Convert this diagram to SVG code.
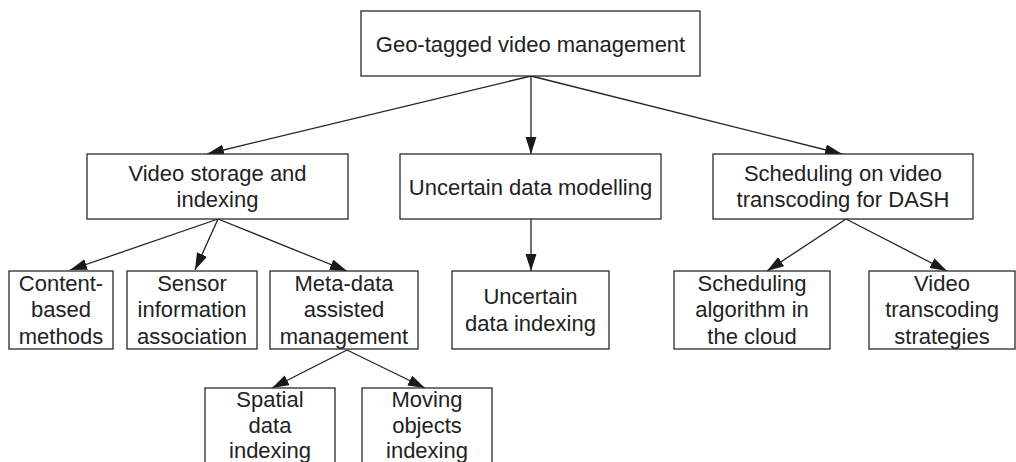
<svg xmlns="http://www.w3.org/2000/svg" width="1016" height="462" viewBox="0 0 1016 462">
  <style>
    .box { fill: #fff; stroke: #2a2a2a; stroke-width: 1.3; }
    .lbl { font-family: "Liberation Sans", Arial, sans-serif; font-size: 22px; fill: #222; text-anchor: middle; }
    .edge { stroke: #222; stroke-width: 1.3; fill: none; marker-end: url(#arrow); }
  </style>
  <defs>
    <marker id="arrow" markerUnits="userSpaceOnUse" markerWidth="19" markerHeight="13" refX="17" refY="5.5" orient="auto">
      <path d="M0,0 L17,5.5 L0,11 Z" fill="#1a1a1a"/>
    </marker>
  </defs>
  <rect width="1016" height="462" fill="#fff"/>

  <g id="connectors">
    <line class="edge" x1="531" y1="76" x2="207" y2="154"/>
    <line class="edge" x1="531" y1="76" x2="531" y2="154"/>
    <line class="edge" x1="531" y1="76" x2="842" y2="154"/>
    <line class="edge" x1="218" y1="219" x2="70" y2="270"/>
    <line class="edge" x1="218" y1="219" x2="195" y2="270"/>
    <line class="edge" x1="218" y1="219" x2="347" y2="271"/>
    <line class="edge" x1="531" y1="219" x2="531" y2="271"/>
    <line class="edge" x1="846" y1="219" x2="767" y2="271"/>
    <line class="edge" x1="846" y1="219" x2="947" y2="271"/>
    <line class="edge" x1="347" y1="350" x2="272" y2="388"/>
    <line class="edge" x1="347" y1="350" x2="425" y2="388"/>
  </g>

  <g id="root">
    <rect class="box" x="361" y="11" width="339" height="65"/>
    <text class="lbl" x="530.5" y="51.5">Geo-tagged video management</text>
  </g>

  <g id="video-storage">
    <rect class="box" x="87" y="154" width="261" height="65"/>
    <text class="lbl" x="217.5" y="180.5">Video storage and</text>
    <text class="lbl" x="217.5" y="207">indexing</text>
  </g>

  <g id="uncertain-modelling">
    <rect class="box" x="400" y="154" width="261" height="65"/>
    <text class="lbl" x="530.5" y="194.5">Uncertain data modelling</text>
  </g>

  <g id="scheduling-dash">
    <rect class="box" x="713" y="154" width="260" height="65"/>
    <text class="lbl" x="843" y="180.5">Scheduling on video</text>
    <text class="lbl" x="843" y="207">transcoding for DASH</text>
  </g>

  <g id="content-based">
    <rect class="box" x="9" y="271" width="104" height="78"/>
    <text class="lbl" x="61" y="290.5">Content-</text>
    <text class="lbl" x="61" y="317">based</text>
    <text class="lbl" x="61" y="343.5">methods</text>
  </g>

  <g id="sensor-info">
    <rect class="box" x="127" y="271" width="130" height="78"/>
    <text class="lbl" x="192" y="290.5">Sensor</text>
    <text class="lbl" x="192" y="317">information</text>
    <text class="lbl" x="192" y="343.5">association</text>
  </g>

  <g id="meta-data">
    <rect class="box" x="270" y="271" width="148" height="78"/>
    <text class="lbl" x="344" y="290.5">Meta-data</text>
    <text class="lbl" x="344" y="317">assisted</text>
    <text class="lbl" x="344" y="343.5">management</text>
  </g>

  <g id="uncertain-indexing">
    <rect class="box" x="452" y="271" width="157" height="78"/>
    <text class="lbl" x="530.5" y="303.5">Uncertain</text>
    <text class="lbl" x="530.5" y="330.5">data indexing</text>
  </g>

  <g id="scheduling-cloud">
    <rect class="box" x="674" y="271" width="156" height="78"/>
    <text class="lbl" x="752" y="290.5">Scheduling</text>
    <text class="lbl" x="752" y="317">algorithm in</text>
    <text class="lbl" x="752" y="343.5">the cloud</text>
  </g>

  <g id="transcoding-strategies">
    <rect class="box" x="869" y="271" width="146" height="78"/>
    <text class="lbl" x="942" y="290.5">Video</text>
    <text class="lbl" x="942" y="317">transcoding</text>
    <text class="lbl" x="942" y="343.5">strategies</text>
  </g>

  <g id="spatial-indexing">
    <rect class="box" x="205" y="388" width="130" height="90"/>
    <text class="lbl" x="270" y="407">Spatial</text>
    <text class="lbl" x="270" y="432.5">data</text>
    <text class="lbl" x="270" y="458">indexing</text>
  </g>

  <g id="moving-objects">
    <rect class="box" x="362" y="388" width="130" height="90"/>
    <text class="lbl" x="427" y="407">Moving</text>
    <text class="lbl" x="427" y="432.5">objects</text>
    <text class="lbl" x="427" y="458">indexing</text>
  </g>
</svg>
